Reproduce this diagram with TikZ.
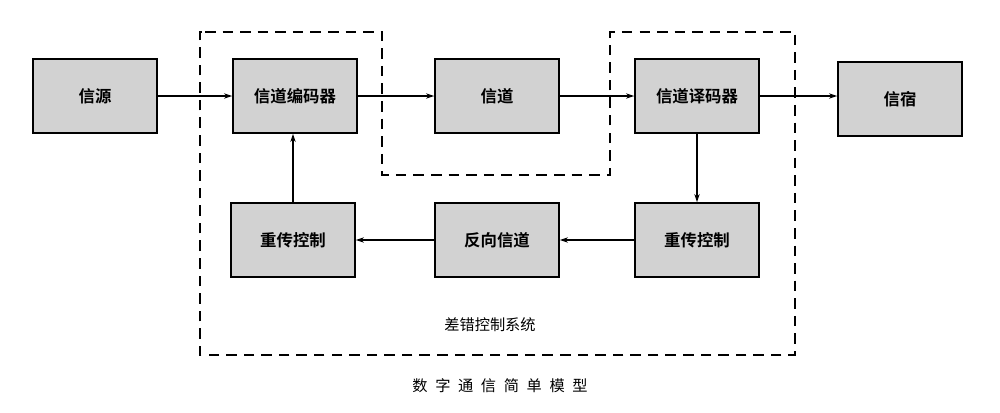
\documentclass[tikz,border=0pt]{standalone}
\usepackage{fontspec}
\newfontfamily\cjk{Noto Sans CJK SC}[BoldFont={Noto Sans CJK SC Bold}]
\usetikzlibrary{arrows.meta}
\begin{document}
\begin{tikzpicture}[x=0.03cm,y=-0.03cm,
  blk/.style={draw=black,line width=1.8pt,fill=gray!35,minimum width=3.7cm,minimum height=2.2cm,font=\cjk\bfseries\fontsize{14}{16}\selectfont},
  arr/.style={-{Stealth[length=7pt,width=4.5pt]},line width=1pt},
  dsh/.style={dash pattern=on 9pt off 6pt,line width=1.1pt}]
\useasboundingbox (0,0) rectangle (1000,412);
\fill[white] (0,0) rectangle (1000,412);
\node[blk] (src) at (95,96) {信源};
\node[blk] (enc) at (295,96) {信道编码器};
\node[blk] (ch) at (497,96) {信道};
\node[blk] (dec) at (697,96) {信道译码器};
\node[blk] (snk) at (900,99) {信宿};
\node[blk] (rl) at (293,240) {重传控制};
\node[blk] (rev) at (497,240) {反向信道};
\node[blk] (rr) at (697,240) {重传控制};
\draw[dsh] (205,32) -- (382,32) -- (382,175) -- (610,175) -- (610,32) -- (795,32) -- (795,355) -- (200,355) -- (200,32) -- (205,32);
\node[font=\cjk\fontsize{13}{15}\selectfont] (lab) at (490,325) {差错控制系统};
\node[font=\cjk\fontsize{13}{15}\selectfont] (cap) at (500,386) {数\hspace{0.5em}字\hspace{0.5em}通\hspace{0.5em}信\hspace{0.5em}简\hspace{0.5em}单\hspace{0.5em}模\hspace{0.5em}型};
\draw[arr] (src) -- (enc);
\draw[arr] (enc) -- (ch);
\draw[arr] (ch) -- (dec);
\draw[arr] (dec.east) -- (dec.east -| snk.west);
\draw[arr] (dec.south -| rr.north) -- (rr.north);
\draw[arr] (rr) -- (rev);
\draw[arr] (rev) -- (rl);
\draw[arr] (rl.north) -- (rl.north |- enc.south);
\end{tikzpicture}
\end{document}
